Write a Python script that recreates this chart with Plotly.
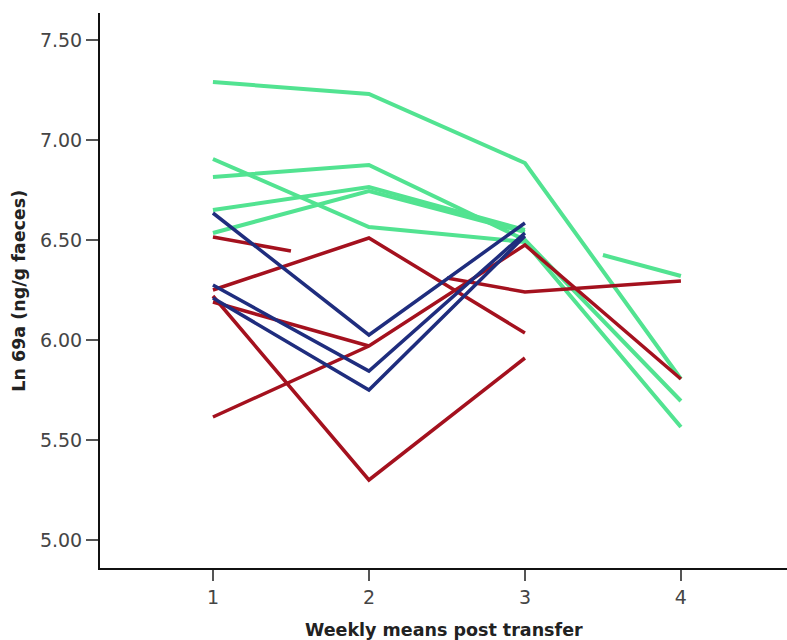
import plotly.graph_objects as go

# Weekly means of ln 69a per animal, grouped by colour
weeks = [1, 2, 3, 4]

green_series = [
    ([1, 2, 3, 4], [7.29, 7.23, 6.885, 5.805]),
    ([1, 2, 3, 4], [6.905, 6.565, 6.49, 5.565]),
    ([1, 2, 3, 4], [6.815, 6.875, 6.50, 5.695]),
    ([1, 2, 3], [6.65, 6.765, 6.55]),
    ([1, 2, 3], [6.535, 6.745, 6.54]),
    ([3.5, 4], [6.425, 6.32]),
]

red_series = [
    ([1, 1.5], [6.515, 6.445]),
    ([1, 2, 3], [6.25, 6.51, 6.035]),
    ([1, 2], [6.19, 5.97]),
    ([1, 2, 3, 4], [5.615, 5.97, 6.475, 5.805]),
    ([1, 2, 3], [6.22, 5.30, 5.91]),
    ([2.5, 3, 4], [6.31, 6.24, 6.295]),
]

blue_series = [
    ([1, 2, 3], [6.635, 6.025, 6.585]),
    ([1, 2, 3], [6.275, 5.845, 6.535]),
    ([1, 2, 3], [6.21, 5.75, 6.52]),
]

y_ticks = [5.0, 5.5, 6.0, 6.5, 7.0, 7.5]
y_tick_labels = ["5.00", "5.50", "6.00", "6.50", "7.00", "7.50"]

GREEN = "#52e391"
RED = "#a4111e"
BLUE = "#1f2d7e"

fig = go.Figure()

for xs, ys in green_series:
    fig.add_trace(go.Scatter(x=xs, y=ys, mode="lines",
                             line=dict(color=GREEN, width=4), showlegend=False))
for xs, ys in red_series:
    fig.add_trace(go.Scatter(x=xs, y=ys, mode="lines",
                             line=dict(color=RED, width=3.5), showlegend=False))
for xs, ys in blue_series:
    fig.add_trace(go.Scatter(x=xs, y=ys, mode="lines",
                             line=dict(color=BLUE, width=3.5), showlegend=False))

tick_font = dict(family="DejaVu Sans", size=19, color="#454545")

fig.update_layout(
    width=787, height=640,
    margin=dict(l=100, r=0, t=13, b=72),
    paper_bgcolor="white", plot_bgcolor="white",
    xaxis=dict(
        range=[0.276, 4.68], tickvals=weeks, ticktext=[str(w) for w in weeks],
        showgrid=False, zeroline=False, showline=True, linecolor="#111111",
        linewidth=2, ticks="outside", ticklen=11, tickwidth=1.5,
        tickcolor="#555555", tickfont=tick_font,
    ),
    yaxis=dict(
        range=[4.86, 7.635], tickvals=y_ticks, ticktext=y_tick_labels,
        showgrid=False, zeroline=False, showline=True, linecolor="#111111",
        linewidth=2, ticks="outside", ticklen=12, tickwidth=1.5,
        tickcolor="#555555", tickfont=tick_font,
    ),
    annotations=[
        dict(text="<b>Ln 69a (ng/g faeces)</b>", xref="paper", yref="paper",
             x=-0.119, y=0.5, xanchor="center", yanchor="middle",
             textangle=-90, showarrow=False,
             font=dict(family="DejaVu Sans", size=17.5, color="#222222")),
        dict(text="<b>Weekly means post transfer</b>", xref="paper", yref="paper",
             x=0.5, y=-0.112, xanchor="center", yanchor="middle",
             showarrow=False,
             font=dict(family="DejaVu Sans", size=17.5, color="#222222")),
    ],
)

fig.write_html("out.html")
